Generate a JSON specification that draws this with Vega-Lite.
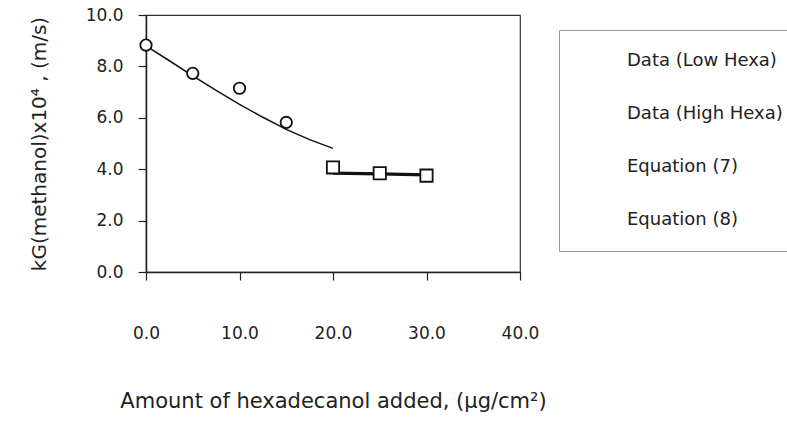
{
  "$schema": "https://vega.github.io/schema/vega-lite/v6.json",
  "width": 374,
  "height": 257,
  "autosize": {"type": "none"},
  "padding": {"left": 146, "top": 15, "right": 267, "bottom": 166},
  "background": "white",
  "config": {
    "font": "DejaVu Sans",
    "view": {"stroke": "#333", "strokeWidth": 1.2},
    "axis": {"grid": false, "domainColor": "#222", "tickColor": "#222", "labelColor": "#222", "titleColor": "#222", "titleFontWeight": "normal", "domainWidth": 1.5, "tickWidth": 1.2, "labelFlush": false}
  },
  "datasets": {
    "pts": [
      {"x": 0, "y": 8.83, "series": "Data (Low Hexa)"},
      {"x": 5, "y": 7.73, "series": "Data (Low Hexa)"},
      {"x": 10, "y": 7.15, "series": "Data (Low Hexa)"},
      {"x": 15, "y": 5.82, "series": "Data (Low Hexa)"},
      {"x": 20, "y": 4.07, "series": "Data (High Hexa)"},
      {"x": 25, "y": 3.84, "series": "Data (High Hexa)"},
      {"x": 30, "y": 3.75, "series": "Data (High Hexa)"}
    ],
    "eq": [
      {"x": 0, "y": 8.8, "series": "Equation (7)"},
      {"x": 2.5, "y": 8.22, "series": "Equation (7)"},
      {"x": 5, "y": 7.63, "series": "Equation (7)"},
      {"x": 7.5, "y": 7.07, "series": "Equation (7)"},
      {"x": 10, "y": 6.52, "series": "Equation (7)"},
      {"x": 12.5, "y": 6.02, "series": "Equation (7)"},
      {"x": 15, "y": 5.55, "series": "Equation (7)"},
      {"x": 17.5, "y": 5.15, "series": "Equation (7)"},
      {"x": 20, "y": 4.81, "series": "Equation (7)"},
      {"x": 20, "y": 3.85, "series": "Equation (8)"},
      {"x": 25, "y": 3.82, "series": "Equation (8)"},
      {"x": 30, "y": 3.78, "series": "Equation (8)"}
    ]
  },
  "layer": [
    {
      "data": {"name": "eq"},
      "transform": [{"filter": "datum.series == 'Equation (7)'"}],
      "mark": {"type": "line", "color": "#111", "strokeWidth": 1.5},
      "encoding": {
        "x": {"field": "x", "type": "quantitative", "scale": {"domain": [0, 40], "nice": false},
          "axis": {"values": [0, 10, 20, 30, 40], "format": ".1f", "tickSize": 8, "labelPadding": 45, "labelFontSize": 17,
            "title": "Amount of hexadecanol added, (μg/cm²)", "titleFontSize": 21, "titlePadding": 49}},
        "y": {"field": "y", "type": "quantitative", "scale": {"domain": [0, 10], "nice": false},
          "axis": {"values": [0, 2, 4, 6, 8, 10], "format": ".1f", "tickSize": 8, "labelPadding": 15, "labelFontSize": 17,
            "title": "kG(methanol)x10⁴ , (m/s)", "titleFontSize": 20, "titlePadding": 36}}
      }
    },
    {
      "data": {"name": "eq"},
      "transform": [{"filter": "datum.series == 'Equation (8)'"}],
      "mark": {"type": "line", "color": "#111", "strokeWidth": 3.2},
      "encoding": {
        "x": {"field": "x", "type": "quantitative"},
        "y": {"field": "y", "type": "quantitative"}
      }
    },
    {
      "data": {"name": "pts"},
      "mark": {"type": "point", "filled": true, "fill": "white", "stroke": "#111", "opacity": 1},
      "encoding": {
        "x": {"field": "x", "type": "quantitative"},
        "y": {"field": "y", "type": "quantitative"},
        "shape": {"field": "series", "type": "nominal",
          "scale": {"domain": ["Data (Low Hexa)", "Data (High Hexa)", "Equation (7)", "Equation (8)"],
            "range": ["circle", "square", "stroke", "stroke"]},
          "legend": {
            "title": null, "orient": "none", "legendX": 413, "legendY": 15,
            "labelFontSize": 18, "labelColor": "#222", "labelOffset": 28,
            "symbolStrokeColor": "#111", "symbolFillColor": "white",
            "rowPadding": 35, "padding": 22, "strokeColor": "#999", "fillColor": "white",
            "encode": {"symbols": {"update": {
              "stroke": {"value": "#111"},
              "fill": {"value": "white"},
              "strokeWidth": {"value": 1.6},
              "opacity": {"value": 1},
              "strokeOpacity": {"value": 1},
              "fillOpacity": {"value": 1}
            }}}
          }},
        "size": {"field": "series", "type": "nominal",
          "scale": {"domain": ["Data (Low Hexa)", "Data (High Hexa)"], "range": [130, 150]}, "legend": null},
        "strokeWidth": {"field": "series", "type": "nominal",
          "scale": {"domain": ["Data (Low Hexa)", "Data (High Hexa)"], "range": [1.8, 1.8]}, "legend": null}
      }
    }
  ]
}
